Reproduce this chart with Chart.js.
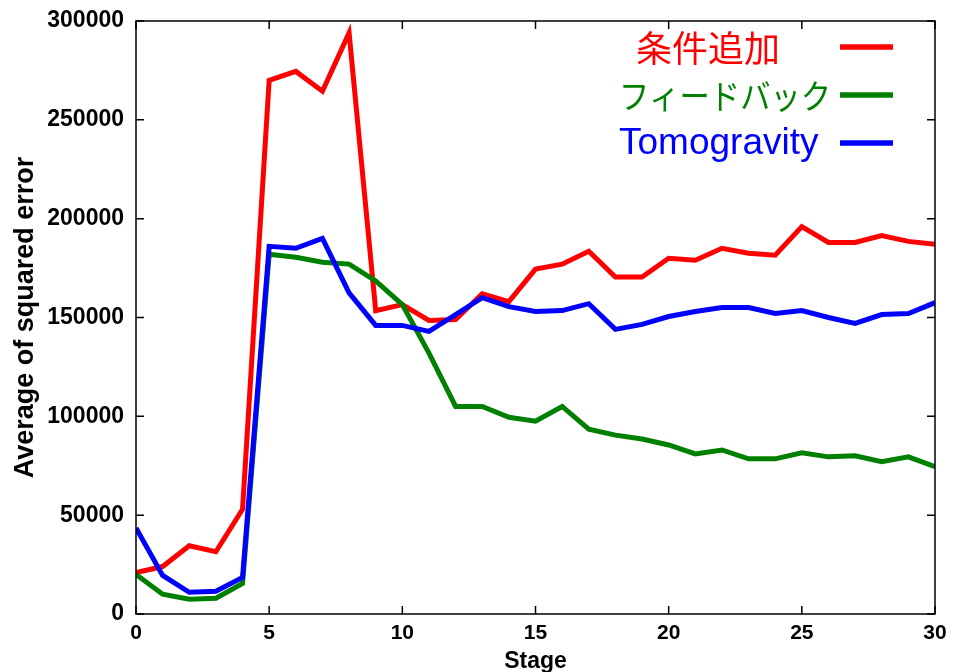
<!DOCTYPE html>
<html>
<head>
<meta charset="utf-8">
<script src="https://cdn.jsdelivr.net/npm/chart.js@4/dist/chart.umd.min.js"></script>
<style>
  html, body { margin: 0; padding: 0; background: #ffffff; }
  #wrap { width: 954px; height: 672px; position: relative; }
</style>
</head>
<body>
<div id="wrap"><canvas id="c" width="954" height="672"></canvas></div>
<script>
// ---- data ----
const stages = [0,1,2,3,4,5,6,7,8,9,10,11,12,13,14,15,16,17,18,19,20,21,22,23,24,25,26,27,28,29,30];
const conditionAdded = [21000, 24000, 34500, 31500, 53000, 270000, 274500, 264500, 294000, 153500, 156500, 148500, 149000, 162000, 158000, 174500, 177000, 183500, 170500, 170500, 180000, 179000, 185000, 182500, 181500, 196000, 188000, 188000, 191500, 188500, 187000];
const feedback = [20000, 10000, 7500, 8000, 15500, 182000, 180500, 178000, 177000, 168500, 156500, 132000, 105000, 105000, 99500, 97500, 105000, 93500, 90500, 88500, 85500, 81000, 83000, 78500, 78500, 81500, 79500, 80000, 77000, 79500, 74500];
const tomogravity = [43500, 19500, 11000, 11500, 18500, 186000, 185000, 190000, 162500, 146000, 146000, 143000, 151500, 160000, 155500, 153000, 153500, 157000, 144000, 146500, 150500, 153000, 155000, 155000, 152000, 153500, 150000, 147000, 151500, 152000, 157500];
const seriesNames = ['条件追加', 'フィードバック', 'Tomogravity'];
const seriesColors = ['#ff0000', '#008000', '#0000ff'];
const xTicks = [0, 5, 10, 15, 20, 25, 30];
const yTicks = [0, 50000, 100000, 150000, 200000, 250000, 300000];
const xTitle = 'Stage';
const yTitle = 'Average of squared error';

const toPoints = (vals) => stages.map((s, i) => ({ x: s, y: vals[i] }));

const FAMILY = '"Liberation Sans", Arial, sans-serif';

// inward ticks + frame, and legend
const framePlugin = {
  id: 'frame',
  afterDatasetsDraw(chart) {
    const { ctx, chartArea: a, scales: { x, y } } = chart;
    ctx.save();
    ctx.strokeStyle = '#000';
    ctx.lineWidth = 1.5;
    ctx.strokeRect(a.left, a.top, a.right - a.left, a.bottom - a.top);
    const L = 8;
    ctx.beginPath();
    xTicks.forEach(v => {
      const px = x.getPixelForValue(v);
      ctx.moveTo(px, a.bottom); ctx.lineTo(px, a.bottom - L);
      ctx.moveTo(px, a.top); ctx.lineTo(px, a.top + L);
    });
    yTicks.forEach(v => {
      const py = y.getPixelForValue(v);
      ctx.moveTo(a.left, py); ctx.lineTo(a.left + L, py);
      ctx.moveTo(a.right, py); ctx.lineTo(a.right - L, py);
    });
    ctx.stroke();

    // legend
    const items = [
      { tx: 636, ty: 47, font: '36px "Noto Sans CJK JP", sans-serif', w: 0 },
      { tx: 619, ty: 95, font: '34px "Noto Sans CJK JP", sans-serif', w: 212 },
      { tx: 619, ty: 143, font: '37px ' + FAMILY, w: 0 }
    ];
    items.forEach((it, i) => {
      ctx.save();
      ctx.fillStyle = seriesColors[i];
      ctx.font = it.font;
      ctx.textAlign = 'left';
      ctx.textBaseline = 'middle';
      if (it.w) {
        const mw = ctx.measureText(seriesNames[i]).width;
        ctx.translate(it.tx, it.ty + 1);
        ctx.scale(it.w / mw, 1);
        ctx.fillText(seriesNames[i], 0, 0);
      } else {
        ctx.fillText(seriesNames[i], it.tx, it.ty + 1);
      }
      ctx.restore();
      ctx.strokeStyle = seriesColors[i];
      ctx.lineWidth = 5.5;
      ctx.lineCap = 'butt';
      ctx.beginPath();
      ctx.moveTo(840, it.ty);
      ctx.lineTo(893, it.ty);
      ctx.stroke();
    });
    ctx.restore();
  }
};

const mk = (i, vals, order) => ({
  label: seriesNames[i],
  data: toPoints(vals),
  borderColor: seriesColors[i],
  backgroundColor: seriesColors[i],
  borderWidth: 5,
  pointRadius: 0,
  tension: 0,
  fill: false,
  order: order,
  borderJoinStyle: 'miter'
});

new Chart(document.getElementById('c'), {
  type: 'line',
  data: {
    datasets: [
      mk(0, conditionAdded, 2),
      mk(1, feedback, 1),
      mk(2, tomogravity, 0)
    ]
  },
  options: {
    responsive: false,
    animation: false,
    devicePixelRatio: 1,
    layout: { padding: { left: 0, top: 21, right: 19, bottom: 0 } },
    plugins: { legend: { display: false }, tooltip: { enabled: false } },
    scales: {
      x: {
        type: 'linear',
        min: 0, max: 30,
        afterFit(s) { s.height = 58; s.paddingLeft = 0; s.paddingRight = 0; },
        afterBuildTicks(s) { s.ticks = xTicks.map(v => ({ value: v })); },
        grid: { display: false, drawTicks: false },
        border: { display: false },
        ticks: { color: '#000', font: { family: FAMILY, size: 21, weight: 'bold' }, padding: 7, maxRotation: 0, autoSkip: false,
                 callback: (v) => String(v) },
        title: { display: true, text: xTitle, color: '#000',
                 font: { family: FAMILY, size: 23, weight: 'bold' },
                 padding: { top: 0, bottom: -3 } }
      },
      y: {
        type: 'linear',
        min: 0, max: 300000,
        afterFit(s) { s.width = 136; s.paddingTop = 0; s.paddingBottom = 0; },
        afterBuildTicks(s) { s.ticks = yTicks.map(v => ({ value: v })); },
        grid: { display: false, drawTicks: false },
        border: { display: false },
        ticks: { color: '#000', font: { family: FAMILY, size: 23, weight: 'bold' }, padding: 12, autoSkip: false,
                 callback: (v) => String(v) },
        title: { display: true, text: yTitle, color: '#000',
                 font: { family: FAMILY, size: 27, weight: 'bold' },
                 padding: { top: 9, bottom: 0 } }
      }
    }
  },
  plugins: [framePlugin]
});
</script>
</body>
</html>
